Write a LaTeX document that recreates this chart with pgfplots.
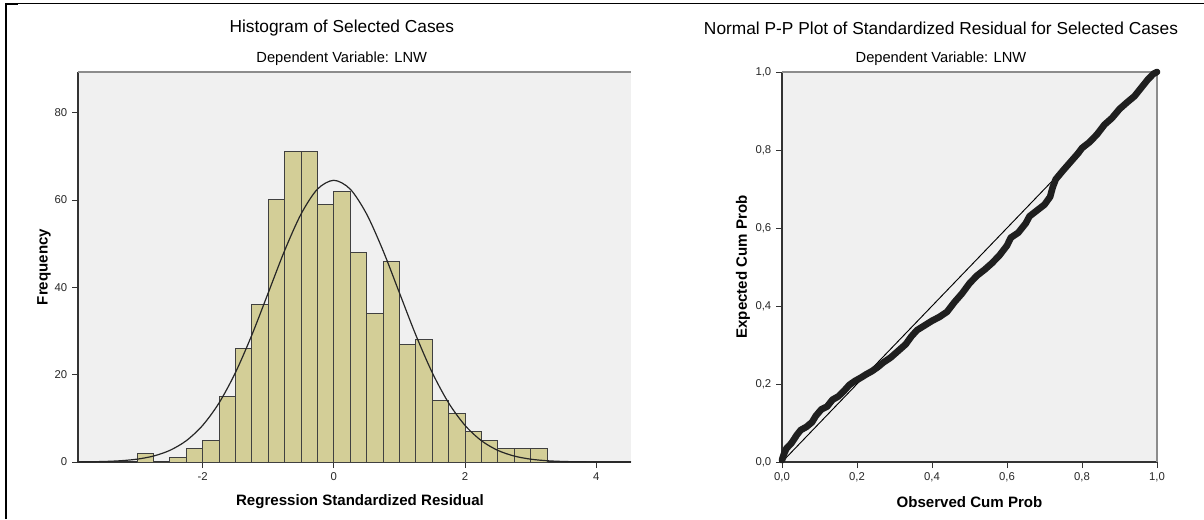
\documentclass[border=0pt]{standalone}
\usepackage{fontspec}
\setmainfont{Liberation Sans}
\usepackage{pgfplots}
\pgfplotsset{compat=1.18}
\definecolor{barfill}{RGB}{211,206,151}
\definecolor{plotbg}{RGB}{240,240,240}
\definecolor{framegray}{RGB}{140,140,140}
\definecolor{ticktext}{RGB}{40,40,40}
\pgfplotsset{
  spss/.style={
    scale only axis, clip=false,
    axis lines*=left,
    axis background/.style={fill=plotbg},
    tick align=outside, major tick length=4.5pt,
    tick style={black!80, line width=0.6pt},
    axis line style={black!80, line width=0.8pt},
    tick label style={font=\fontsize{8.5}{9.5}\selectfont, text=ticktext},
    label style={font=\fontsize{11.3}{13}\selectfont\bfseries},
    /pgf/number format/assume math mode=true,
    enlargelimits=false,
  }
}
\begin{document}
\begin{tikzpicture}[x=1pt,y=1pt]
\useasboundingbox (0,0) rectangle (903,389.25);
\fill[white] (0,0) rectangle (903,389.25);
\draw[line width=1.7pt] (4.6,0) -- (4.6,386.3);
\draw[line width=0.75pt] (3.8,386.3) -- (903,386.3);
\draw[line width=1.6pt] (3.8,386.3) -- (13.5,386.3);

% Histogram
\begin{axis}[spss,
  at={(58.5pt,42.75pt)}, anchor=south west,
  width=414.75pt, height=292.5pt,
  xmin=-3.9, xmax=4.53, ymin=0, ymax=89.3,
  xtick={-2,0,2,4}, ytick={0,20,40,60,80},
  xlabel={Regression Standardized Residual},
  ylabel={Frequency},
  xlabel style={at={(axis description cs:0.51,-0.1026)}, anchor=center},
  ylabel style={at={(axis description cs:-0.0615,0.5)}, anchor=center},
]
\addplot[ybar interval, fill=barfill, draw=black!75, line width=0.7pt] coordinates {
(-3.00,2) (-2.75,0) (-2.50,1) (-2.25,3) (-2.00,5) (-1.75,15) (-1.50,26) (-1.25,36)
(-1.00,60) (-0.75,71) (-0.50,71) (-0.25,59) (0.00,62) (0.25,48) (0.50,34) (0.75,46)
(1.00,27) (1.25,28) (1.50,14) (1.75,11) (2.00,7) (2.25,5) (2.50,3) (2.75,3) (3.00,3) (3.25,0)
};
\addplot[smooth, black!85, line width=0.9pt] coordinates {
(-3.90,0.03) (-3.75,0.05) (-3.50,0.12) (-3.25,0.29) (-3.00,0.65) (-2.75,1.36) (-2.50,2.66)
(-2.25,4.87) (-2.00,8.38) (-1.75,13.52) (-1.50,20.47) (-1.25,29.07) (-1.00,38.73)
(-0.75,48.41) (-0.50,56.77) (-0.25,62.48) (0.00,64.50) (0.25,62.48) (0.50,56.77)
(0.75,48.41) (1.00,38.73) (1.25,29.07) (1.50,20.47) (1.75,13.52) (2.00,8.38)
(2.25,4.87) (2.50,2.66) (2.75,1.36) (3.00,0.65) (3.25,0.29) (3.50,0.12) (3.75,0.05)
(4.00,0.02) (4.25,0.01) (4.53,0.00)
};
\draw[framegray, line width=0.8pt] (rel axis cs:0,1) -- (rel axis cs:1,1);
\node[font=\fontsize{13}{15}\selectfont] at (rel axis cs:0.477,1.113) {Histogram of Selected Cases};
\node[font=\fontsize{11}{13}\selectfont] at (rel axis cs:0.477,1.034) {Dependent Variable: LNW};
\end{axis}

% P-P plot
\begin{axis}[spss,
  at={(586.5pt,42.75pt)}, anchor=south west,
  width=281.25pt, height=292.5pt,
  xmin=0, xmax=1, ymin=0, ymax=1,
  xtick={0,0.2,0.4,0.6,0.8,1}, ytick={0,0.2,0.4,0.6,0.8,1},
  /pgf/number format/.cd, use comma, fixed, fixed zerofill, precision=1,
  /pgfplots/.cd,
  xlabel={Observed Cum Prob},
  ylabel={Expected Cum Prob},
  xlabel style={at={(axis description cs:0.5,-0.1026)}, anchor=center},
  ylabel style={at={(axis description cs:-0.104,0.5)}, anchor=center},
]
\draw[framegray, line width=0.8pt] (rel axis cs:0,1) -- (rel axis cs:1,1) -- (rel axis cs:1,0);
\addplot[black, line width=0.7pt] coordinates {(0,0) (1,1)};
\addplot[black!88, line width=5pt, line join=round, line cap=round] coordinates {
(0.000,0.005) (0.005,0.020) (0.012,0.035) (0.025,0.048) (0.040,0.070) (0.050,0.082)
(0.065,0.090) (0.080,0.102) (0.090,0.118) (0.105,0.135) (0.120,0.142) (0.135,0.160)
(0.150,0.168) (0.165,0.182) (0.180,0.198) (0.195,0.208) (0.210,0.216) (0.225,0.225)
(0.240,0.233) (0.255,0.243) (0.270,0.255) (0.290,0.268) (0.310,0.285) (0.330,0.302)
(0.345,0.322) (0.360,0.338) (0.380,0.350) (0.400,0.362) (0.420,0.372) (0.440,0.385)
(0.460,0.410) (0.480,0.432) (0.500,0.458) (0.520,0.478) (0.540,0.493) (0.560,0.510)
(0.580,0.530) (0.600,0.555) (0.610,0.575) (0.630,0.588) (0.650,0.612) (0.660,0.630)
(0.680,0.645) (0.700,0.660) (0.715,0.680) (0.722,0.705) (0.730,0.725) (0.750,0.748)
(0.770,0.770) (0.790,0.792) (0.800,0.805) (0.820,0.820) (0.840,0.840) (0.860,0.865)
(0.880,0.882) (0.900,0.905) (0.920,0.922) (0.940,0.938) (0.960,0.962) (0.975,0.980)
(0.990,0.995) (1.000,1.000)
};
\node[font=\fontsize{13}{15}\selectfont] at (rel axis cs:0.424,1.113) {Normal P-P Plot of Standardized Residual for Selected Cases};
\node[font=\fontsize{11}{13}\selectfont] at (rel axis cs:0.424,1.034) {Dependent Variable: LNW};
\end{axis}
\end{tikzpicture}
\end{document}
